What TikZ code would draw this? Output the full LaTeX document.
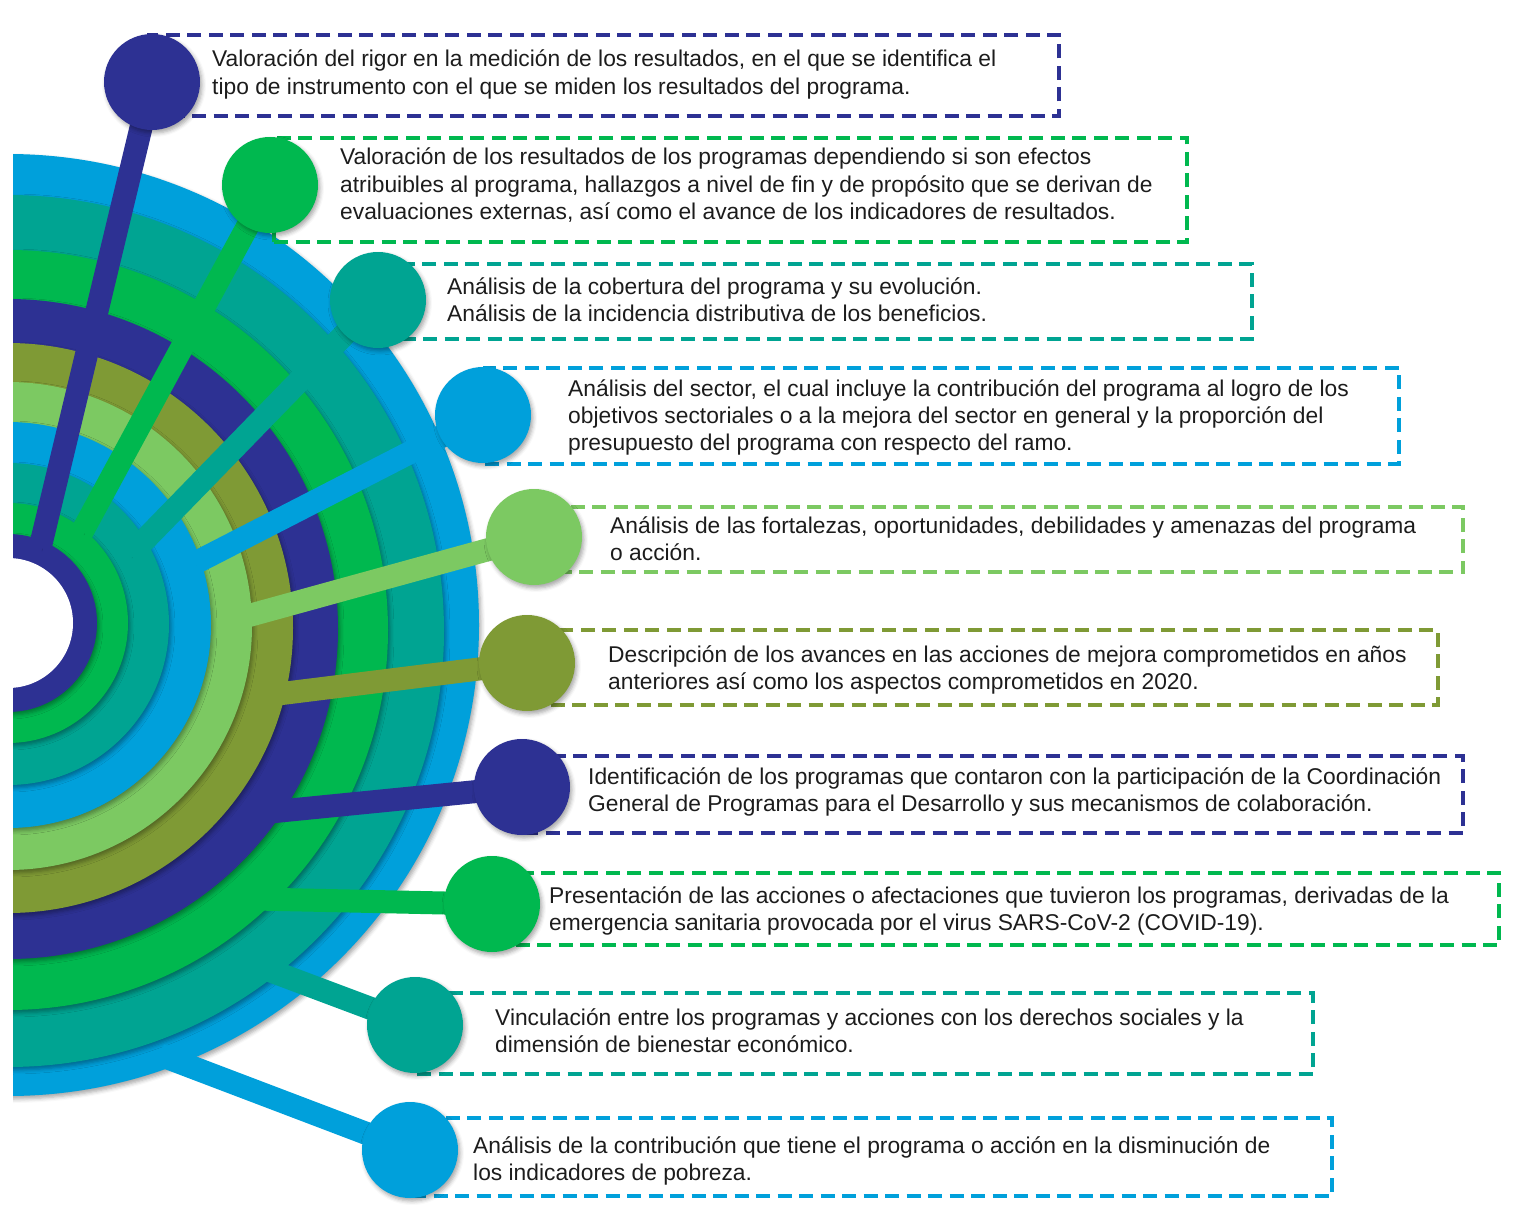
\documentclass[tikz,border=0pt]{standalone}
\usepackage{fontspec}
\setmainfont{Liberation Sans}
\usetikzlibrary{positioning,calc,backgrounds,shadows.blur}
\definecolor{dkblue}{HTML}{2D3193}
\definecolor{cgreen}{HTML}{00B84F}
\definecolor{cteal}{HTML}{00A492}
\definecolor{cblue}{HTML}{00A0DB}
\definecolor{lgreen}{HTML}{7CC962}
\definecolor{colive}{HTML}{7F9A35}
\definecolor{ink}{HTML}{1C1C1C}
\tikzstyle{bubble} = [circle, inner sep=0pt, minimum size=96pt, blur shadow={shadow xshift=2pt, shadow yshift=-3pt, shadow blur radius=4pt, shadow opacity=35}]
\tikzstyle{frame} = [rectangle, inner sep=0pt, anchor=north west, line width=4pt, dash pattern=on 14pt off 7.5pt]
\tikzstyle{note} = [anchor=base west, align=left, inner sep=0pt, text=ink, font=\fontsize{22.8}{27.3}\selectfont]
\tikzstyle{ring} = [blur shadow={shadow xshift=2pt, shadow yshift=-3pt, shadow blur radius=4pt, shadow opacity=35}]
\tikzstyle{ray} = [line width=23pt, preaction={draw=black, opacity=0.15, transform canvas={xshift=2pt, yshift=-3pt}}]

\begin{document}
\begin{tikzpicture}[x=1pt, y=-1pt]
    \useasboundingbox (0,0) rectangle (1515,1209);

    % dashed frames
    \node[frame, draw=dkblue, minimum width=910pt, minimum height=81pt] (b1) at (147,33) {};
    \node[frame, draw=cgreen, minimum width=913pt, minimum height=104pt] (b2) at (272,136) {};
    \node[frame, draw=cteal, minimum width=872pt, minimum height=75pt] (b3) at (378,262) {};
    \node[frame, draw=cblue, minimum width=914pt, minimum height=96pt] (b4) at (483,366) {};
    \node[frame, draw=lgreen, minimum width=927pt, minimum height=65pt] (b5) at (534,505) {};
    \node[frame, draw=colive, minimum width=909pt, minimum height=75pt] (b6) at (527,628) {};
    \node[frame, draw=dkblue, minimum width=939pt, minimum height=77pt] (b7) at (522,754) {};
    \node[frame, draw=cgreen, minimum width=1005pt, minimum height=72pt] (b8) at (492,871) {};
    \node[frame, draw=cteal, minimum width=896pt, minimum height=81pt] (b9) at (415,991) {};
    \node[frame, draw=cblue, minimum width=920pt, minimum height=78pt] (b10) at (410,1116) {};

    % bubbles
    \node[bubble, fill=dkblue] (c1) at (152,82) {};
    \node[bubble, fill=cgreen] (c2) at (270,185) {};
    \node[bubble, fill=cteal] (c3) at (378,300) {};
    \node[bubble, fill=cblue] (c4) at (483,415) {};
    \node[bubble, fill=lgreen] (c5) at (534,537) {};
    \node[bubble, fill=colive] (c6) at (527,663) {};
    \node[bubble, fill=dkblue] (c7) at (522,787) {};
    \node[bubble, fill=cgreen] (c8) at (492,904) {};
    \node[bubble, fill=cteal] (c9) at (415,1025) {};
    \node[bubble, fill=cblue] (c10) at (410,1150) {};

    % texts (placed at the baseline of their last line)
    \node[note] (t1) at (212,94.3) {Valoración del rigor en la medición de los resultados, en el que se identifica el\\tipo de instrumento con el que se miden los resultados del programa.};
    \node[note] (t2) at (340,219.6) {Valoración de los resultados de los programas dependiendo si son efectos\\atribuibles al programa, hallazgos a nivel de fin y de propósito que se derivan de\\evaluaciones externas, así como el avance de los indicadores de resultados.};
    \node[note] (t3) at (447,321.3) {Análisis de la cobertura del programa y su evolución.\\Análisis de la incidencia distributiva de los beneficios.};
    \node[note] (t4) at (568,450.6) {Análisis del sector, el cual incluye la contribución del programa al logro de los\\objetivos sectoriales o a la mejora del sector en general y la proporción del\\presupuesto del programa con respecto del ramo.};
    \node[note] (t5) at (610,560.3) {Análisis de las fortalezas, oportunidades, debilidades y amenazas del programa\\o acción.};
    \node[note] (t6) at (608,689.3) {Descripción de los avances en las acciones de mejora comprometidos en años\\anteriores así como los aspectos comprometidos en 2020.};
    \node[note] (t7) at (588,811.3) {Identificación de los programas que contaron con la participación de la Coordinación\\General de Programas para el Desarrollo y sus mecanismos de colaboración.};
    \node[note] (t8) at (549,930.3) {Presentación de las acciones o afectaciones que tuvieron los programas, derivadas de la\\emergencia sanitaria provocada por el virus SARS-CoV-2 (COVID-19).};
    \node[note] (t9) at (495,1052.3) {Vinculación entre los programas y acciones con los derechos sociales y la\\dimensión de bienestar económico.};
    \node[note] (t10) at (473,1180.3) {Análisis de la contribución que tiene el programa o acción en la disminución de\\los indicadores de pobreza.};

    \begin{scope}[on background layer]
        % half rings
        \begin{scope}
            \clip (13,0) rectangle (1515,1209);
            \fill[ring, cblue] (8,625) circle[radius=471];
            \fill[ring, cteal] (8,631) circle[radius=436];
            \fill[ring, cgreen] (8,630) circle[radius=380];
            \fill[ring, dkblue] (8,629) circle[radius=330];
            \fill[ring, colive] (8,628) circle[radius=285];
            \fill[ring, lgreen] (8,626) circle[radius=244];
            \fill[ring, cblue] (8,625) circle[radius=203];
            \fill[ring, cteal] (8,624) circle[radius=161];
            \fill[ring, cgreen] (8,623) circle[radius=120];
            \fill[ring, dkblue] (8,623) circle[radius=89];
            \fill[white] (8,623) circle[radius=65];
        \end{scope}
        % rays
        \coordinate (s1) at (40,548);
        \coordinate (s2) at (82,532);
        \coordinate (s3) at (130,555);
        \coordinate (s4) at (195,563);
        \coordinate (s5) at (240,618);
        \coordinate (s6) at (270,695);
        \coordinate (s7) at (270,812);
        \coordinate (s8) at (255,899);
        \coordinate (s9) at (255,965);
        \coordinate (s10) at (160,1055);
        \draw[ray, dkblue] (s1) -- (c1.center);
        \draw[ray, cgreen] (s2) -- (c2.center);
        \draw[ray, cteal] (s3) -- (c3.center);
        \draw[ray, cblue] (s4) -- (c4.center);
        \draw[ray, lgreen] (s5) -- (c5.center);
        \draw[ray, colive] (s6) -- (c6.center);
        \draw[ray, dkblue] (s7) -- (c7.center);
        \draw[ray, cgreen] (s8) -- (c8.center);
        \draw[ray, cteal] (s9) -- (c9.center);
        \draw[ray, cblue] (s10) -- (c10.center);
    \end{scope}
\end{tikzpicture}
\end{document}
